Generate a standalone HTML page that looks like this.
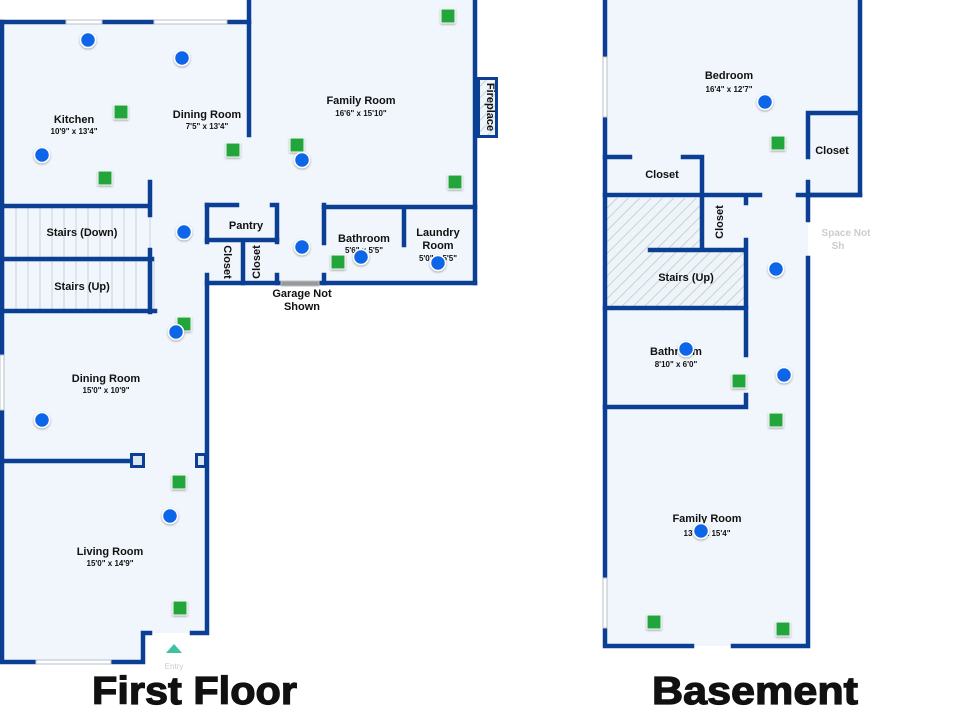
<!DOCTYPE html>
<html><head><meta charset="utf-8"><style>
html,body{margin:0;padding:0;background:#fff;}
svg{display:block;font-family:"Liberation Sans",sans-serif;}
.rl{font-weight:bold;font-size:11px;fill:#111;text-anchor:middle}
.dm{font-weight:bold;font-size:8px;fill:#111;text-anchor:middle}
</style></head><body>
<svg width="960" height="720" viewBox="0 0 960 720" xmlns="http://www.w3.org/2000/svg">
<defs>
<pattern id="hatch" width="8" height="8" patternUnits="userSpaceOnUse" patternTransform="rotate(45)">
<rect width="8" height="8" fill="#eef4f8"/><line x1="0" y1="0" x2="0" y2="8" stroke="#b8c8d2" stroke-width="1.5"/></pattern>
<filter id="sh" x="-50%" y="-50%" width="200%" height="200%"><feDropShadow dx="0" dy="1" stdDeviation="1" flood-color="#000" flood-opacity="0.35"/></filter>
</defs>
<g fill="#f1f6fc">
<rect x="2" y="22" width="248" height="262"/>
<rect x="2" y="283" width="205" height="350"/>
<rect x="2" y="630" width="141" height="32"/>
<rect x="249" y="0" width="226" height="283"/>
</g>
<g fill="#f1f6fc" stroke="#c9d3dc" stroke-width="1">
<rect x="4" y="207" width="146" height="51"/>
<rect x="4" y="261" width="150" height="49"/>
</g>
<g stroke="#c9d3dc" stroke-width="1">
<path d="M16 207V258M28 207V258M40 207V258M52 207V258M64 207V258M76 207V258M88 207V258M100 207V258M112 207V258M124 207V258M136 207V258"/>
<path d="M16 261V310M28 261V310M40 261V310M52 261V310M64 261V310M76 261V310M88 261V310M100 261V310M112 261V310M124 261V310M136 261V310M148 261V310"/>
</g>
<g stroke="#0a3f94" stroke-width="4.5" fill="none" stroke-linecap="square">
<path d="M2 22H64M104 22H153M228 22H249"/>
<path d="M249 0V135"/>
<path d="M475 0V283"/>
<path d="M2 22V662H34M112 662H143V633H150M192 633H207V283"/>
<path d="M2 206H150M150 182V215M150 250V312"/>
<path d="M2 259H152M2 311H155"/>
<path d="M2 461H135"/>
<path d="M207 205V242M207 275V283H280M320 283H475"/>
<path d="M207 205H237M272 205H277V242M277 275V283"/>
<path d="M207 240H277M243 240V283"/>
<path d="M324 205V243M324 275V283"/>
<path d="M324 207H475M404 207V245"/>
</g>
<rect x="130" y="453" width="15" height="15" fill="#0a3f94"/><rect x="133" y="456" width="9" height="9" fill="#dce6f0"/>
<rect x="195" y="453" width="12" height="15" fill="#0a3f94"/><rect x="198" y="456" width="6" height="9" fill="#dce6f0"/>
<rect x="477" y="77" width="21" height="61" fill="#0a3f94"/>
<rect x="480" y="80" width="15" height="55" fill="url(#hatch)"/>
<text x="487" y="107" class="rl" transform="rotate(90 487 107)" font-size="10">Fireplace</text>
<g fill="#fff" stroke="#b8c0c8" stroke-width="1">
<rect x="66" y="20" width="36" height="4"/><rect x="154" y="20" width="73" height="4"/>
<rect x="36" y="660" width="75" height="4"/><rect x="0" y="355" width="4" height="55"/>
<rect x="281" y="281" width="38" height="5" fill="#999"/>
</g>
<polygon points="174,644 166,653 182,653" fill="#3fc0a0"/>
<text x="174" y="669" font-size="8" fill="#ccc" text-anchor="middle">Entry</text>
<text x="74" y="123" class="rl">Kitchen</text><text x="74" y="134" class="dm">10'9" x 13'4"</text>
<text x="207" y="118" class="rl">Dining Room</text><text x="207" y="129" class="dm">7'5" x 13'4"</text>
<text x="361" y="104" class="rl">Family Room</text><text x="361" y="116" class="dm">16'6" x 15'10"</text>
<text x="82" y="236" class="rl">Stairs (Down)</text>
<text x="82" y="290" class="rl">Stairs (Up)</text>
<text x="246" y="229" class="rl">Pantry</text>
<text x="224" y="262" class="rl" transform="rotate(90 224 262)">Closet</text>
<text x="260" y="262" class="rl" transform="rotate(-90 260 262)">Closet</text>
<text x="364" y="242" class="rl">Bathroom</text><text x="364" y="253" class="dm">5'6" x 5'5"</text>
<text x="438" y="236" class="rl">Laundry</text><text x="438" y="249" class="rl">Room</text><text x="438" y="261" class="dm">5'0" x 5'5"</text>
<text x="302" y="297" class="rl">Garage Not</text><text x="302" y="310" class="rl">Shown</text>
<text x="106" y="382" class="rl">Dining Room</text><text x="106" y="393" class="dm">15'0" x 10'9"</text>
<text x="110" y="555" class="rl">Living Room</text><text x="110" y="566" class="dm">15'0" x 14'9"</text>

<g fill="#f1f6fc">
<rect x="605" y="0" width="255" height="195"/>
<rect x="605" y="195" width="203" height="451"/>
</g>
<rect x="607" y="198" width="139" height="108" fill="url(#hatch)"/>
<rect x="704" y="198" width="42" height="52" fill="#f1f6fc"/>
<g stroke="#0a3f94" stroke-width="4.5" fill="none" stroke-linecap="square">
<path d="M605 0V646H692M733 646H808V258M808 220V195"/>
<path d="M860 0V195H808M808 195V182M808 157V113H860"/>
<path d="M605 195H760M798 195H860"/>
<path d="M605 157H630M683 157H702V250M650 250H746M746 198V203M746 240V307"/>
<path d="M605 308H746V355M746 395V407H605"/>
</g>
<g fill="#fff" stroke="#b8c0c8" stroke-width="1">
<rect x="603" y="57" width="4" height="60"/><rect x="603" y="578" width="4" height="50"/>
</g>
<text x="729" y="79" class="rl">Bedroom</text><text x="729" y="92" class="dm">16'4" x 12'7"</text>
<text x="832" y="154" class="rl">Closet</text>
<text x="662" y="178" class="rl">Closet</text>
<text x="723" y="222" class="rl" transform="rotate(-90 723 222)">Closet</text>
<text x="686" y="281" class="rl">Stairs (Up)</text>
<text x="676" y="355" class="rl">Bathroom</text><text x="676" y="367" class="dm">8'10" x 6'0"</text>
<text x="707" y="522" class="rl">Family Room</text><text x="707" y="536" class="dm">13'0" x 15'4"</text>
<text x="846" y="236" font-size="10" font-weight="bold" fill="#ccc" text-anchor="middle">Space Not</text>
<text x="838" y="249" font-size="10" font-weight="bold" fill="#ccc" text-anchor="middle">Sh</text>

<g fill="#22a63a" stroke="#fff" stroke-width="1" filter="url(#sh)">
<rect x="441" y="9" width="14" height="14"/><rect x="114" y="105" width="14" height="14"/>
<rect x="226" y="143" width="14" height="14"/><rect x="290" y="138" width="14" height="14"/>
<rect x="98" y="171" width="14" height="14"/><rect x="448" y="175" width="14" height="14"/>
<rect x="331" y="255" width="14" height="14"/><rect x="177" y="317" width="14" height="14"/>
<rect x="172" y="475" width="14" height="14"/><rect x="173" y="601" width="14" height="14"/>
<rect x="771" y="136" width="14" height="14"/><rect x="732" y="374" width="14" height="14"/>
<rect x="769" y="413" width="14" height="14"/><rect x="647" y="615" width="14" height="14"/>
<rect x="776" y="622" width="14" height="14"/>
</g>
<g fill="#1166e8" stroke="#fff" stroke-width="1.5" filter="url(#sh)">
<circle cx="88" cy="40" r="7.5"/><circle cx="182" cy="58" r="7.5"/><circle cx="42" cy="155" r="7.5"/>
<circle cx="302" cy="160" r="7.5"/><circle cx="184" cy="232" r="7.5"/><circle cx="302" cy="247" r="7.5"/>
<circle cx="361" cy="257" r="7.5"/><circle cx="438" cy="263" r="7.5"/><circle cx="176" cy="332" r="7.5"/>
<circle cx="42" cy="420" r="7.5"/><circle cx="170" cy="516" r="7.5"/>
<circle cx="765" cy="102" r="7.5"/><circle cx="776" cy="269" r="7.5"/><circle cx="686" cy="349" r="7.5"/>
<circle cx="784" cy="375" r="7.5"/><circle cx="701" cy="531" r="7.5"/>
</g>
<text x="92" y="704" font-size="39" font-weight="bold" fill="#111" stroke="#111" stroke-width="1.2" textLength="205" lengthAdjust="spacingAndGlyphs">First Floor</text>
<text x="652" y="704" font-size="39" font-weight="bold" fill="#111" stroke="#111" stroke-width="1.2" textLength="206" lengthAdjust="spacingAndGlyphs">Basement</text>
</svg>
</body></html>
